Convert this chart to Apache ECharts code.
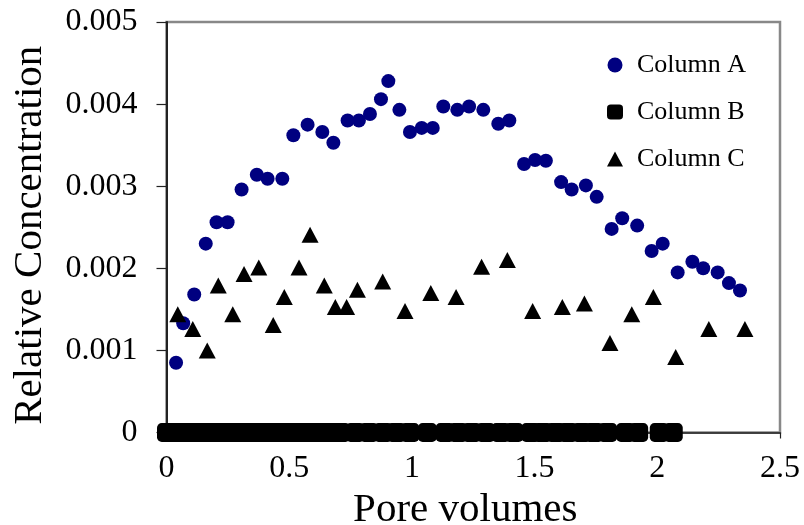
<!DOCTYPE html>
<html>
<head>
<meta charset="utf-8">
<script src="https://cdn.jsdelivr.net/npm/echarts@6/dist/echarts.min.js"></script>
<style>html,body{margin:0;padding:0;background:#fff;}#c{width:804px;height:525px;}</style>
</head>
<body>
<div id="c"></div>
<script>
const seriesNames = ['Column A', 'Column B', 'Column C'];
const xTicks = [0, 0.5, 1, 1.5, 2, 2.5];
const yTicks = [0, 0.001, 0.002, 0.003, 0.004, 0.005];

const aX = [0.039,0.068,0.113,0.160,0.204,0.249,0.306,0.368,0.412,0.472,0.517,0.575,0.635,0.680,0.738,0.784,0.829,0.874,0.904,0.949,0.992,1.040,1.085,1.128,1.185,1.233,1.291,1.352,1.397,1.457,1.502,1.546,1.608,1.651,1.709,1.753,1.814,1.857,1.918,1.977,2.022,2.083,2.143,2.187,2.246,2.292,2.337];
const aY = [0.00085,0.00133,0.00168,0.00230,0.00256,0.00256,0.00296,0.00314,0.00309,0.00309,0.00362,0.00375,0.00366,0.00353,0.00380,0.00380,0.00388,0.00406,0.00428,0.00393,0.00366,0.00371,0.00371,0.00397,0.00393,0.00397,0.00393,0.00376,0.00380,0.00327,0.00332,0.00331,0.00305,0.00296,0.00301,0.00287,0.00248,0.00261,0.00252,0.00221,0.00230,0.00195,0.00208,0.00200,0.00195,0.00182,0.00173];

const bX = [0,0.02,0.05,0.08,0.11,0.14,0.17,0.20,0.23,0.26,0.29,0.32,0.35,0.38,0.41,0.44,0.47,0.50,0.53,0.56,0.59,0.62,0.65,0.68,0.71,0.769,0.825,0.883,0.937,0.992,1.063,1.135,1.189,1.244,1.301,1.362,1.416,1.484,1.533,1.586,1.637,1.692,1.742,1.798,1.871,1.924,2.008,2.065];
const bY = [0,0,0,0,0,0,0,0,0,0,0,0,0,0,0,0,0,0,0,0,0,0,0,0,0,0,0,0,0,0,0,0,0,0,0,0,0,0,0,0,0,0,0,0,0,0,0,0];

const cX = [0.046,0.107,0.166,0.211,0.270,0.316,0.376,0.435,0.480,0.540,0.585,0.643,0.688,0.734,0.778,0.881,0.972,1.077,1.180,1.284,1.389,1.492,1.613,1.703,1.807,1.896,1.984,2.075,2.210,2.357];
const cY = [0.00144,0.00126,0.00100,0.00179,0.00144,0.00193,0.00201,0.00131,0.00165,0.00201,0.00241,0.00179,0.00153,0.00153,0.00174,0.00184,0.00148,0.00170,0.00165,0.00202,0.00210,0.00148,0.00153,0.00157,0.00109,0.00144,0.00165,0.00092,0.00126,0.00126];

const zip = (xs, ys) => xs.map((x, i) => [x, ys[i]]);
const serif = '"Liberation Serif", "Times New Roman", serif';

const chart = echarts.init(document.getElementById('c'), null, {renderer: 'canvas'});
chart.setOption({
  animation: false,
  backgroundColor: '#fff',
  grid: {
    left: 166.5, right: 24, top: 22, bottom: 92.5,
    show: true, borderColor: '#888', borderWidth: 2.5, backgroundColor: '#fff',
    containLabel: false, outerBoundsMode: 'none'
  },
  legend: {
    orient: 'vertical',
    left: 602, top: 47,
    itemWidth: 16, itemHeight: 15,
    itemGap: 21,
    textStyle: {fontFamily: serif, fontSize: 26, color: '#000', padding: [0, 0, 0, 9]},
    data: seriesNames
  },
  xAxis: {
    type: 'value',
    min: xTicks[0], max: xTicks[xTicks.length - 1], interval: 0.5,
    name: 'Pore volumes', nameLocation: 'middle', nameGap: 33,
    nameTextStyle: {fontFamily: serif, fontSize: 41, color: '#000', padding: [0, 16, 0, 0]},
    axisLine: {show: true, onZero: false, lineStyle: {color: '#222', width: 1.5}},
    axisTick: {show: true, inside: false, length: 6, lineStyle: {color: '#222', width: 1.2}},
    axisLabel: {fontFamily: serif, fontSize: 32, color: '#000', margin: 20},
    splitLine: {show: false}
  },
  yAxis: {
    type: 'value',
    min: yTicks[0], max: yTicks[yTicks.length - 1], interval: 0.001,
    name: 'Relative Concentration', nameLocation: 'middle', nameGap: 116,
    nameTextStyle: {fontFamily: serif, fontSize: 41, color: '#000', padding: [0, 16, 0, 0]},
    axisLine: {show: true, onZero: false, lineStyle: {color: '#222', width: 2}},
    axisTick: {show: true, inside: false, length: 10, lineStyle: {color: '#222', width: 1.2}},
    axisLabel: {fontFamily: serif, fontSize: 32, color: '#000', margin: 29,
      formatter: v => (v === 0 ? '0' : v.toFixed(3))},
    splitLine: {show: false}
  },
  series: [
    {name: seriesNames[0], type: 'scatter', data: zip(aX, aY), symbol: 'circle', symbolSize: 14,
     clip: false, itemStyle: {color: '#000080', opacity: 1}, z: 2},
    {name: seriesNames[1], type: 'scatter', data: zip(bX, bY), symbol: 'roundRect', symbolSize: 19,
     clip: false, itemStyle: {color: '#000', opacity: 1}, z: 3},
    {name: seriesNames[2], type: 'scatter', data: zip(cX, cY), symbol: 'triangle', symbolSize: [17, 16],
     clip: false, itemStyle: {color: '#000', opacity: 1}, z: 4}
  ]
});
</script>
</body>
</html>
